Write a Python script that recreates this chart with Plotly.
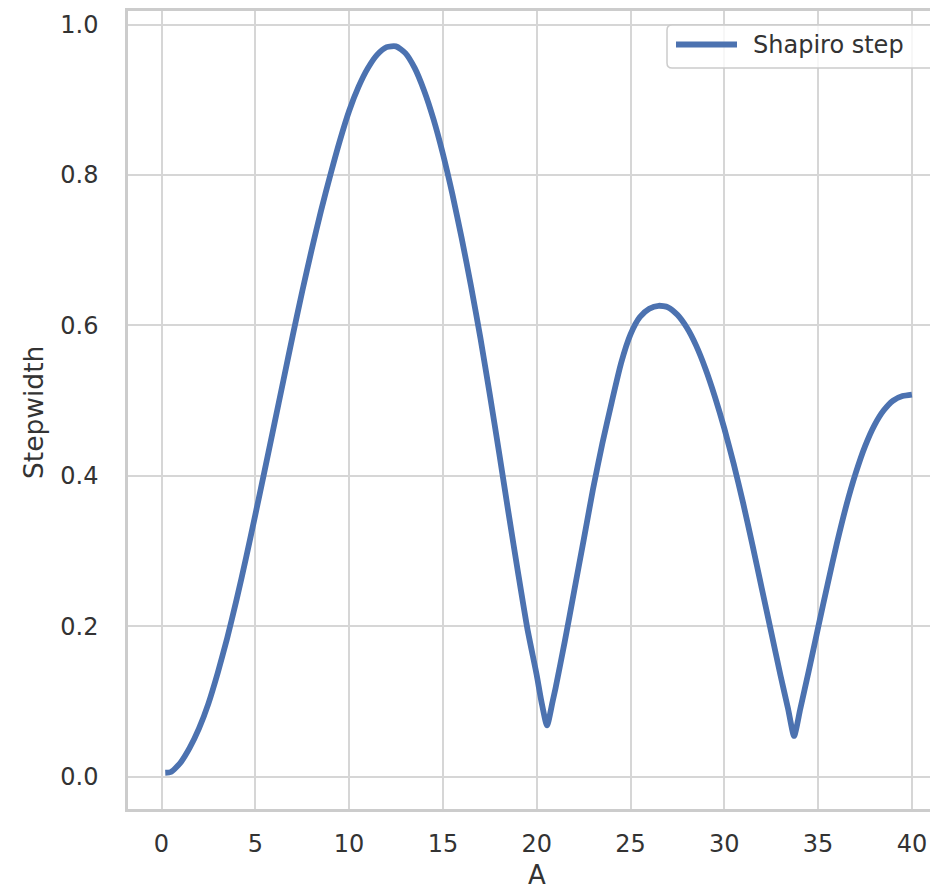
import plotly.graph_objects as go

# Shapiro step width as a function of drive amplitude A
amplitude = [0.2, 0.5, 1.0, 1.5, 2.0, 2.5, 3.0, 3.5, 4.0, 4.5, 5.0, 5.5, 6.0, 6.5, 7.0,
             7.5, 8.0, 8.5, 9.0, 9.5, 10.0, 10.5, 11.0, 11.5, 12.0, 12.5, 13.0, 13.5, 14.0,
             14.5, 15.0, 15.5, 16.0, 16.5, 17.0, 17.5, 18.0, 18.5, 19.0, 19.5, 20.0, 20.25,
             20.55, 20.85, 21.0, 21.5, 22.0, 22.5, 23.0, 23.5, 24.0, 24.5, 25.0, 25.5, 26.0,
             26.5, 27.0, 27.5, 28.0, 28.5, 29.0, 29.5, 30.0, 30.5, 31.0, 31.5, 32.0, 32.5,
             33.0, 33.4, 33.72, 34.05, 34.5, 35.0, 35.5, 36.0, 36.5, 37.0, 37.5, 38.0, 38.5,
             39.0, 39.5, 40.0]
stepwidth = [0.005, 0.006, 0.018, 0.038, 0.064, 0.097, 0.138, 0.184, 0.235, 0.290, 0.348,
             0.407, 0.467, 0.527, 0.587, 0.645, 0.700, 0.752, 0.800, 0.845, 0.885, 0.917,
             0.942, 0.960, 0.970, 0.971, 0.962, 0.942, 0.912, 0.874, 0.828, 0.775, 0.716,
             0.652, 0.583, 0.508, 0.430, 0.350, 0.272, 0.197, 0.135, 0.100, 0.068, 0.100,
             0.117, 0.180, 0.247, 0.314, 0.382, 0.443, 0.498, 0.550, 0.588, 0.611, 0.622,
             0.626, 0.624, 0.614, 0.597, 0.573, 0.542, 0.505, 0.463, 0.416, 0.364, 0.308,
             0.250, 0.192, 0.134, 0.090, 0.054, 0.090, 0.140, 0.198, 0.255, 0.310, 0.360,
             0.403, 0.439, 0.467, 0.487, 0.500, 0.506, 0.508]

x_ticks = [0, 5, 10, 15, 20, 25, 30, 35, 40]
y_ticks = [0.0, 0.2, 0.4, 0.6, 0.8, 1.0]

LINE_BLUE = "#4C72B0"
GRID = "#d6d6d6"
SPINE = "#cccccc"
TEXT = "#333333"
FONT = "DejaVu Sans"

W, H = 930, 892
L, R, T, B = 128, 930, 11, 809  # plot-area edges in pixels


def px_x(p):
    return (p - L) / (R - L)


def px_y(p):
    return (B - p) / (B - T)


fig = go.Figure()
fig.add_trace(go.Scatter(
    x=amplitude, y=stepwidth, mode="lines", name="Shapiro step",
    line=dict(color=LINE_BLUE, width=5.8, shape="spline", smoothing=0.6),
    showlegend=False,
))

fig.update_layout(
    width=W, height=H,
    margin=dict(l=L, r=W - R, t=T, b=H - B, pad=0),
    paper_bgcolor="white", plot_bgcolor="white",
    font=dict(family=FONT, color=TEXT, size=24),
    xaxis=dict(
        range=[-1.786, 40.965], tickvals=x_ticks, ticktext=[str(v) for v in x_ticks],
        showgrid=True, gridcolor=GRID, gridwidth=2, zeroline=False,
        showline=True, linecolor=SPINE, linewidth=2.5, mirror=True,
        ticks="", ticklabelstandoff=11, tickfont=dict(size=24, color=TEXT),
    ),
    yaxis=dict(
        range=[-0.0432, 1.018], tickvals=y_ticks, ticktext=[f"{v:.1f}" for v in y_ticks],
        showgrid=True, gridcolor=GRID, gridwidth=2, zeroline=False,
        showline=True, linecolor=SPINE, linewidth=2.5,
        ticks="", ticklabelstandoff=22, tickfont=dict(size=24, color=TEXT),
    ),
)

# legend frame with rounded left corners, running past the right edge
bx0, bx1, by0, by1, rad = 667, 945, 25, 68, 5
frame = (
    f"M {px_x(bx1)},{px_y(by0)} L {px_x(bx0 + rad)},{px_y(by0)} "
    f"Q {px_x(bx0)},{px_y(by0)} {px_x(bx0)},{px_y(by0 + rad)} "
    f"L {px_x(bx0)},{px_y(by1 - rad)} "
    f"Q {px_x(bx0)},{px_y(by1)} {px_x(bx0 + rad)},{px_y(by1)} "
    f"L {px_x(bx1)},{px_y(by1)} Z"
)
fig.add_shape(type="path", path=frame, xref="paper", yref="paper",
              fillcolor="rgba(255,255,255,0.8)", line=dict(color=SPINE, width=1.5),
              layer="above")
fig.add_shape(type="line", xref="paper", yref="paper",
              x0=px_x(676), x1=px_x(737), y0=px_y(44.5), y1=px_y(44.5),
              line=dict(color=LINE_BLUE, width=5.8), layer="above")
fig.add_annotation(text="Shapiro step", xref="paper", yref="paper",
                   x=px_x(751), y=px_y(45), xanchor="left", yanchor="middle",
                   showarrow=False, font=dict(size=24, color=TEXT))

# axis titles
fig.add_annotation(text="A", xref="paper", yref="paper",
                   x=px_x(536.7), y=px_y(891), xanchor="center", yanchor="bottom",
                   showarrow=False, borderpad=0, font=dict(size=26, color=TEXT))
fig.add_annotation(text="Stepwidth", xref="paper", yref="paper",
                   x=px_x(33), y=px_y(413), xanchor="center", yanchor="middle",
                   textangle=-90, showarrow=False, font=dict(size=26.5, color=TEXT))

fig.write_html("out.html")
